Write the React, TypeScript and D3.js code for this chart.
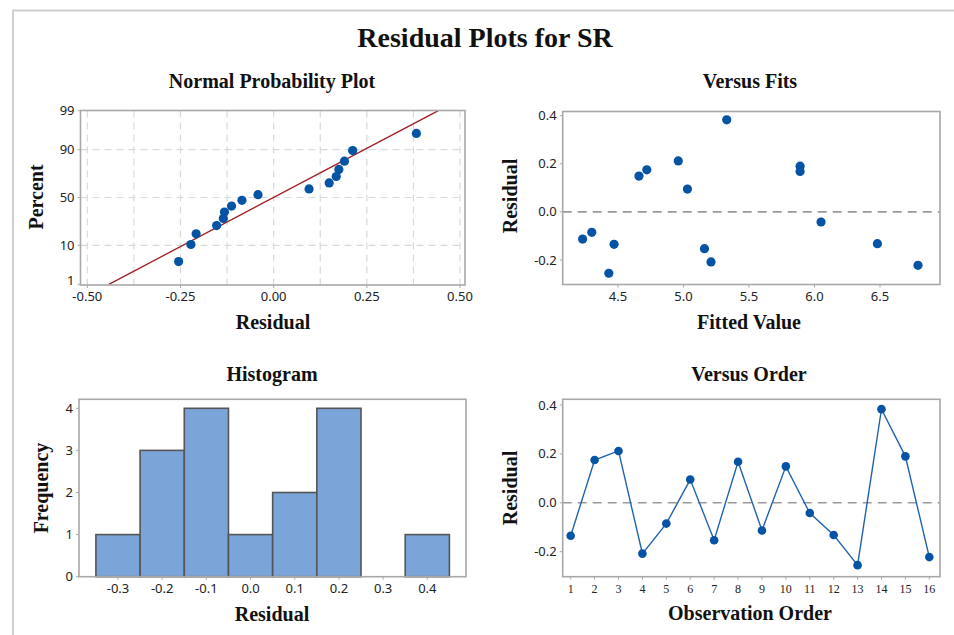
import React from "react";
import * as d3 from "d3";

// residuals in observation order
const observation = [1, 2, 3, 4, 5, 6, 7, 8, 9, 10, 11, 12, 13, 14, 15, 16];
const residuals = [
  -0.135, 0.175, 0.212, -0.208, -0.085, 0.095, -0.153, 0.168, -0.113, 0.149,
  -0.042, -0.132, -0.255, 0.383, 0.19, -0.222,
];
const fitted = [
  4.47, 4.72, 4.96, 5.21, 4.3, 5.03, 5.16, 5.89, 4.23, 4.66, 6.05, 6.48, 4.43,
  5.33, 5.89, 6.79,
];

// normal probability plot
const nppPercent = [
  4.3, 10.4, 16.5, 22.6, 28.7, 34.8, 40.9, 47.0, 53.0, 59.1, 65.2, 71.3, 77.4,
  83.5, 89.6, 95.7,
];
const nppYTicks = [1, 10, 50, 90, 99];
const nppXTicks = [-0.5, -0.25, 0, 0.25, 0.5];
const nppXGrid = [-0.375, -0.25, -0.125, 0, 0.125, 0.25, 0.375];
const fitMean = 0;
const fitSd = 0.19;

// other panels
const fitsXTicks = [4.5, 5.0, 5.5, 6.0, 6.5];
const residTicks = [-0.2, 0.0, 0.2, 0.4];
const histEdges = [-0.35, -0.25, -0.15, -0.05, 0.05, 0.15, 0.25, 0.35, 0.45];
const histXTicks = [-0.3, -0.2, -0.1, 0.0, 0.1, 0.2, 0.3, 0.4];
const histYTicks = [0, 1, 2, 3, 4];

const SERIF = "'Liberation Serif', 'Times New Roman', serif";
const SANS = "'Noto Sans', 'DejaVu Sans', sans-serif";
const BLUE = "#0453a5";
const FRAME = "#a8a8a8";

const locale = d3.formatLocale({ decimal: ".", thousands: ",", grouping: [3], currency: ["", ""], minus: "-" });
const f1 = locale.format(".1f");
const f2 = locale.format(".2f");

// inverse normal cdf (Acklam)
function probit(p: number): number {
  const a = [-39.69683028665376, 220.9460984245205, -275.9285104469687, 138.357751867269, -30.66479806614716, 2.506628277459239];
  const b = [-54.47609879822406, 161.5858368580409, -155.6989798598866, 66.80131188771972, -13.28068155288572];
  const c = [-0.007784894002430293, -0.3223964580411365, -2.400758277161838, -2.549732539343734, 4.374664141464968, 2.938163982698783];
  const d = [0.007784695709041462, 0.3224671290700398, 2.445134137142996, 3.754408661907416];
  const pl = 0.02425;
  if (p < pl) {
    const q = Math.sqrt(-2 * Math.log(p));
    return (((((c[0] * q + c[1]) * q + c[2]) * q + c[3]) * q + c[4]) * q + c[5]) / ((((d[0] * q + d[1]) * q + d[2]) * q + d[3]) * q + 1);
  }
  if (p > 1 - pl) {
    const q = Math.sqrt(-2 * Math.log(1 - p));
    return -(((((c[0] * q + c[1]) * q + c[2]) * q + c[3]) * q + c[4]) * q + c[5]) / ((((d[0] * q + d[1]) * q + d[2]) * q + d[3]) * q + 1);
  }
  const q = p - 0.5;
  const r = q * q;
  return ((((((a[0] * r + a[1]) * r + a[2]) * r + a[3]) * r + a[4]) * r + a[5]) * q) / (((((b[0] * r + b[1]) * r + b[2]) * r + b[3]) * r + b[4]) * r + 1);
}

type Box = { x0: number; x1: number; y0: number; y1: number };

function Frame({ box }: { box: Box }) {
  return (
    <rect
      x={box.x0}
      y={box.y0}
      width={box.x1 - box.x0}
      height={box.y1 - box.y0}
      fill="none"
      stroke={FRAME}
      strokeWidth={1.6}
    />
  );
}

function XTicks({ ticks, scale, y, fmt, font = SANS, size = 13 }: any) {
  return (
    <g>
      {ticks.map((t: number) => (
        <g key={t} transform={`translate(${scale(t)},${y})`}>
          <line y1={0} y2={3} stroke={FRAME} strokeWidth={1} />
          <text y={16} textAnchor="middle" fontFamily={font} fontSize={size} fill="#222">
            {fmt(t)}
          </text>
        </g>
      ))}
    </g>
  );
}

function YTicks({ ticks, pos, x, fmt, nudge }: any) {
  return (
    <g>
      {ticks.map((t: number) => (
        <g key={t} transform={`translate(${x},${pos(t)})`}>
          <line x1={0} x2={-3} stroke={FRAME} strokeWidth={1} />
          <text
            x={-6}
            y={nudge ? nudge(t) : 0}
            dy="0.35em"
            textAnchor="end"
            fontFamily={SANS}
            fontSize={13}
            fill="#222"
          >
            {fmt(t)}
          </text>
        </g>
      ))}
    </g>
  );
}

function Title({ x, y, text, size = 20, rotate = false }: any) {
  return (
    <text
      transform={rotate ? `translate(${x},${y}) rotate(-90)` : `translate(${x},${y})`}
      textAnchor="middle"
      fontFamily={SERIF}
      fontWeight="bold"
      fontSize={size}
      fill="#111"
    >
      {text}
    </text>
  );
}

function NormalPlot() {
  const box: Box = { x0: 80.5, x1: 465, y0: 110.5, y1: 285 };
  const x = d3.scaleLinear().domain([-0.5, 0.5]).range([87.3, 460]);
  const y = d3.scaleLinear().domain([probit(0.01), probit(0.99)]).range([284.3, 110.7]);
  const py = (p: number) => y(probit(p / 100));
  const sorted = residuals.slice().sort((a, b) => a - b);
  const lo = fitMean + fitSd * probit(0.01);
  const hi = fitMean + fitSd * probit(0.99);
  const grid = { stroke: "#d9d9d9", strokeWidth: 1.2, strokeDasharray: "7,5" };
  return (
    <g>
      <defs>
        <clipPath id="npp-clip">
          <rect x={box.x0} y={box.y0} width={box.x1 - box.x0} height={box.y1 - box.y0} />
        </clipPath>
      </defs>
      {nppXGrid.map((g) => (
        <line key={g} x1={x(g)} x2={x(g)} y1={box.y0} y2={box.y1} {...grid} />
      ))}
      {[10, 50, 90].map((p) => (
        <line key={p} x1={box.x0} x2={box.x1} y1={py(p)} y2={py(p)} {...grid} />
      ))}
      <line x1={x(-0.5)} x2={x(-0.5)} y1={box.y0} y2={box.y1} {...grid} />
      <line x1={x(0.5)} x2={x(0.5)} y1={box.y0} y2={box.y1} {...grid} />
      <g clipPath="url(#npp-clip)">
        <line x1={x(lo)} y1={py(1)} x2={x(hi)} y2={py(99)} stroke="#a11d21" strokeWidth={1.3} />
      </g>
      {sorted.map((r, i) => (
        <circle key={i} cx={x(r)} cy={py(nppPercent[i])} r={4.6} fill={BLUE} />
      ))}
      <Frame box={box} />
      <XTicks ticks={nppXTicks} scale={x} y={box.y1} fmt={f2} />
      <YTicks
        ticks={nppYTicks}
        pos={py}
        x={box.x0}
        fmt={(t: number) => String(t)}
        nudge={(t: number) => (t === 1 ? -3.5 : 0)}
      />
      <Title x={272} y={88} text="Normal Probability Plot" />
      <Title x={273} y={329} text="Residual" />
      <Title x={43} y={197} text="Percent" rotate />
    </g>
  );
}

function FitsPlot() {
  const box: Box = { x0: 562.7, x1: 940, y0: 111.5, y1: 284.5 };
  const x = d3.scaleLinear().domain([4.5, 6.5]).range([618, 880]);
  const y = d3.scaleLinear().domain([-0.2, 0.4]).range([260, 115.7]);
  return (
    <g>
      <line x1={box.x0} x2={box.x1} y1={y(0)} y2={y(0)} stroke="#999" strokeWidth={1.6} strokeDasharray="9,6" />
      {fitted.map((f, i) => (
        <circle key={i} cx={x(f)} cy={y(residuals[i])} r={4.6} fill={BLUE} />
      ))}
      <Frame box={box} />
      <XTicks ticks={fitsXTicks} scale={x} y={box.y1} fmt={f1} />
      <YTicks ticks={residTicks} pos={y} x={box.x0} fmt={f1} />
      <Title x={750} y={88} text="Versus Fits" />
      <Title x={749} y={329} text="Fitted Value" />
      <Title x={517} y={196} text="Residual" rotate />
    </g>
  );
}

function HistPlot() {
  const box: Box = { x0: 79, x1: 466, y0: 399.3, y1: 576.7 };
  const x = d3.scaleLinear().domain([-0.3, 0.4]).range([118, 427.3]);
  const y = d3.scaleLinear().domain([0, 4]).range([576.7, 408.3]);
  const bins = d3
    .bin()
    .domain([histEdges[0], histEdges[histEdges.length - 1]])
    .thresholds(histEdges.slice(1, -1))(residuals);
  return (
    <g>
      {bins.map((b, i) => (
        <rect
          key={i}
          x={x(b.x0 as number)}
          y={y(b.length)}
          width={x(b.x1 as number) - x(b.x0 as number)}
          height={y(0) - y(b.length)}
          fill="#7ba5d8"
          stroke="#555"
          strokeWidth={1.6}
        />
      ))}
      <Frame box={box} />
      <XTicks ticks={histXTicks} scale={x} y={box.y1} fmt={f1} />
      <YTicks ticks={histYTicks} pos={y} x={box.x0} fmt={(t: number) => String(t)} />
      <Title x={272} y={381} text="Histogram" />
      <Title x={272} y={621} text="Residual" />
      <Title x={48} y={488} text="Frequency" rotate />
    </g>
  );
}

function OrderPlot() {
  const box: Box = { x0: 562.7, x1: 940, y0: 399.3, y1: 576.7 };
  const x = d3.scaleLinear().domain([1, 16]).range([570.7, 929.3]);
  const y = d3.scaleLinear().domain([-0.2, 0.4]).range([551.7, 405]);
  const line = d3
    .line<number>()
    .x((_, i) => x(observation[i]))
    .y((r) => y(r));
  return (
    <g>
      <line x1={box.x0} x2={box.x1} y1={y(0)} y2={y(0)} stroke="#999" strokeWidth={1.6} strokeDasharray="9,6" />
      <path d={line(residuals) || ""} fill="none" stroke="#1f63b0" strokeWidth={1.4} />
      {residuals.map((r, i) => (
        <circle key={i} cx={x(observation[i])} cy={y(r)} r={4.3} fill={BLUE} />
      ))}
      <Frame box={box} />
      <XTicks ticks={observation} scale={x} y={box.y1} fmt={(t: number) => String(t)} font={SERIF} size={12} />
      <YTicks ticks={residTicks} pos={y} x={box.x0} fmt={f1} />
      <Title x={749} y={381} text="Versus Order" />
      <Title x={750} y={620} text="Observation Order" />
      <Title x={517} y={488} text="Residual" rotate />
    </g>
  );
}

export default function App() {
  return (
    <svg
      width={954}
      height={635}
      style={{ position: "absolute", left: 0, top: 0, background: "#fff" }}
    >
      <rect x={13} y={10.5} width={960} height={640} fill="#fff" stroke="#cfcfcf" strokeWidth={2} />
      <Title x={485} y={47} text="Residual Plots for SR" size={28} />
      <NormalPlot />
      <FitsPlot />
      <HistPlot />
      <OrderPlot />
    </svg>
  );
}
